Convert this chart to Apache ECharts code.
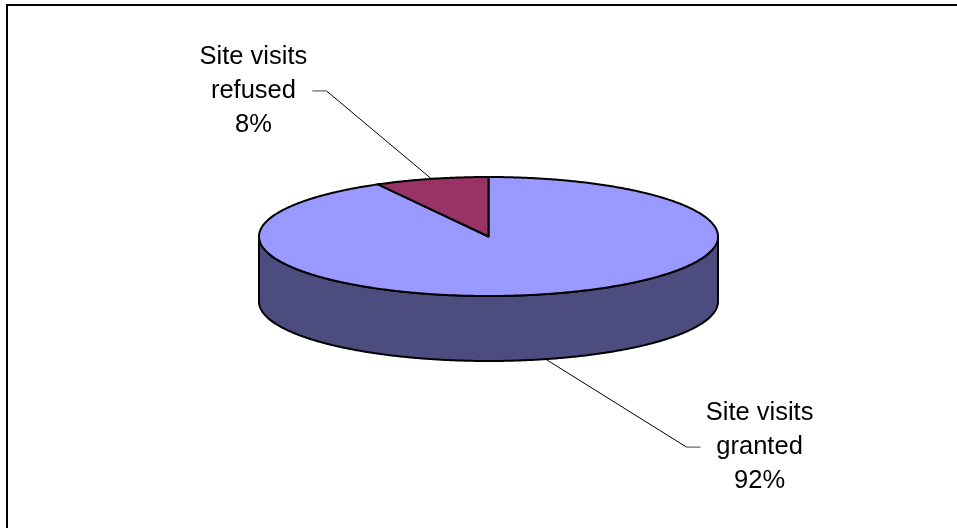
<!DOCTYPE html>
<html>
<head>
<meta charset="utf-8">
<script src="https://cdn.jsdelivr.net/npm/echarts@6/dist/echarts.min.js"></script>
<style>
  html, body { margin: 0; padding: 0; background: #fff; }
  #chart { width: 957px; height: 528px; }
</style>
</head>
<body>
<div id="chart"></div>
<script>
// ---- data ----
const categories = ['Site visits granted', 'Site visits refused'];
const labelLines = [['Site visits', 'granted'], ['Site visits', 'refused']];
const values = [92, 8];
const percentLabels = ['92%', '8%'];
const topColors = ['#9999FF', '#993366'];
const sideColors = ['#4C4C7F', '#4D1A33'];

// ---- layout ----
const CX = 488.5, CY = 236.5, RX = 229.5, RY = 59.5, DEPTH = 65;
const FONT = '25.5px Arial, "Liberation Sans", sans-serif';

function pt(deg, dy) {
  const r = deg * Math.PI / 180;
  return [CX + RX * Math.sin(r), CY - RY * Math.cos(r) + (dy || 0)];
}
function arc(a, b, dy) {
  const pts = [];
  const n = Math.max(2, Math.ceil(Math.abs(b - a) / 0.5));
  for (let i = 0; i <= n; i++) pts.push(pt(a + (b - a) * i / n, dy));
  return pts;
}

const total = values.reduce((s, v) => s + v, 0);

function renderItem(params, api) {
  const idx = params.dataIndex;
  let before = 0;
  for (let i = 0; i < idx; i++) before += values[i];
  const v = api.value(0);
  const start = before / total * 360;
  const end = (before + v) / total * 360;
  const children = [];

  // side wall (visible front part: 90..270 deg)
  const s0 = Math.max(start, 90), s1 = Math.min(end, 270);
  if (s1 > s0) {
    const pts = arc(s0, s1, 0).concat(arc(s1, s0, DEPTH));
    children.push({
      type: 'polygon', z2: 1,
      shape: { points: pts },
      style: { fill: sideColors[idx], stroke: '#000', lineWidth: 2, lineJoin: 'round' }
    });
  }
  // top face
  children.push({
    type: 'polygon', z2: 5,
    shape: { points: [[CX, CY]].concat(arc(start, end, 0)) },
    style: { fill: topColors[idx], stroke: '#000', lineWidth: 2, lineJoin: 'round' }
  });

  // leader line + label
  const mid = (start + end) / 2;
  const front = Math.cos(mid * Math.PI / 180) < 0;
  const p0 = pt(mid, front ? DEPTH : 0);
  const right = Math.sin(mid * Math.PI / 180) > 0;
  const p1 = right ? [p0[0] + 141, p0[1] + 88] : [p0[0] - 105, p0[1] - 88];
  const p2 = [p1[0] + (right ? 14 : -14), p1[1]];
  children.push({
    type: 'polyline', z2: 10,
    shape: { points: [p0, p1] },
    style: { stroke: '#000', lineWidth: 1, fill: null }
  });
  children.push({
    type: 'polyline', z2: 10,
    shape: { points: [p1, p2] },
    style: { stroke: '#808080', lineWidth: 1.5, fill: null }
  });
  children.push({
    type: 'text', z2: 10,
    x: p2[0] + (right ? 59 : -59), y: p2[1],
    style: {
      text: labelLines[idx].concat([percentLabels[idx]]).join('\n'),
      font: FONT, fill: '#000',
      align: 'center', verticalAlign: 'middle', lineHeight: 34
    }
  });
  return { type: 'group', children: children };
}

const chart = echarts.init(document.getElementById('chart'), null, { renderer: 'canvas' });
chart.setOption({
  animation: false,
  backgroundColor: '#fff',
  graphic: [{
    type: 'rect', z: 100,
    shape: { x: 7, y: 5, width: 1000, height: 1000 },
    style: { fill: null, stroke: '#000', lineWidth: 2 }
  }],
  series: [{
    type: 'custom',
    coordinateSystem: 'none',
    silent: true,
    renderItem: renderItem,
    data: values.map((v, i) => ({ name: categories[i], value: [v] }))
  }]
});
</script>
</body>
</html>
